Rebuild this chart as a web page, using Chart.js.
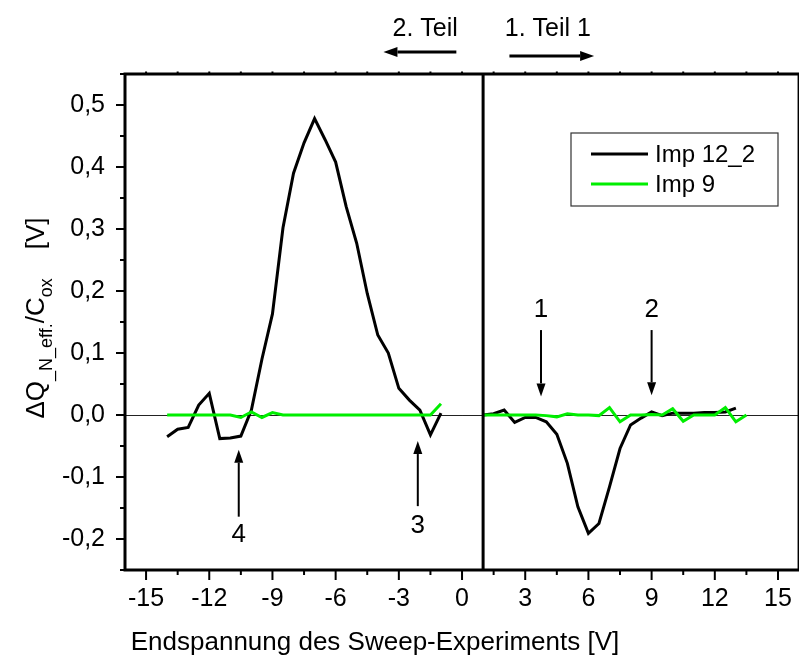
<!DOCTYPE html>
<html><head><meta charset="utf-8">
<script src="https://cdn.jsdelivr.net/npm/chart.js@4.4.1/dist/chart.umd.min.js"></script>
<style>
html,body{margin:0;padding:0;background:#fff;overflow:hidden;width:799px;height:661px}
#wrap{position:relative;width:806px;height:661px}
</style></head>
<body><div id="wrap"><canvas id="c" width="806" height="661"></canvas></div>
<script>
// ---- data ----
const xLeft = [-14,-13.5,-13,-12.5,-12,-11.5,-11,-10.5,-10,-9.5,-9,-8.5,-8,-7.5,-7,-6.5,-6,-5.5,-5,-4.5,-4,-3.5,-3,-2.5,-2,-1.5,-1];
const imp12Left = [-0.035,-0.023,-0.020,0.016,0.035,-0.038,-0.037,-0.034,0.008,0.090,0.163,0.302,0.390,0.439,0.478,0.444,0.408,0.336,0.277,0.196,0.129,0.100,0.043,0.024,0.008,-0.032,0.003];
const imp9Left = [0,0,0,0,0,0,0,-0.004,0.005,-0.004,0.004,0,0,0,0,0,0,0,0,0,0,0,0,0,0,0,0.018];
const xRight12 = [1,1.5,2,2.5,3,3.5,4,4.5,5,5.5,6,6.5,7,7.5,8,8.5,9,9.5,10,10.5,11,11.5,12,12.5,13];
const imp12Right = [0,0.002,0.008,-0.012,-0.004,-0.004,-0.011,-0.031,-0.078,-0.148,-0.191,-0.175,-0.116,-0.054,-0.016,-0.005,0.005,-0.001,0.003,0.003,0.003,0.004,0.004,0.005,0.011];
const xRight9 = [1,1.5,2,2.5,3,3.5,4,4.5,5,5.5,6,6.5,7,7.5,8,8.5,9,9.5,10,10.5,11,11.5,12,12.5,13,13.5];
const imp9Right = [0,0,0,0,0,0,-0.001,-0.003,0.002,0,0,-0.001,0.012,-0.011,0,0,0.001,0,0.010,-0.010,0,0,0,0.012,-0.011,0];
const seriesNames = ['Imp 12_2','Imp 9'];
const xTitle = 'Endspannung des Sweep-Experiments [V]';
const dividerX = 1;

// annotation markers (data units)
const markLabels = ['1','2','3','4'];
const markX = [3.75, 9, -2.1, -10.6];
const markTail = [0.137, 0.137, -0.147, -0.164];
const markTip = [0.030, 0.032, -0.042, -0.056];
const markText = [0.169, 0.169, -0.179, -0.194];

const FONT = '"Liberation Sans", Arial, sans-serif';
const BLACK = '#000000';
const GREEN = '#00ee00';

function pts(xs, ys){ return xs.map((x,i)=>({x:x,y:ys[i]})); }
const blackData = pts(xLeft, imp12Left).concat([{x:0, y:null}], pts(xRight12, imp12Right));
const greenData = pts(xLeft, imp9Left).concat([{x:0, y:null}], pts(xRight9, imp9Right));

function arrow(ctx, x1, y1, x2, y2, head, w){
  const a = Math.atan2(y2-y1, x2-x1);
  const bx = x2 - Math.cos(a)*head, by = y2 - Math.sin(a)*head;
  ctx.beginPath(); ctx.moveTo(x1,y1); ctx.lineTo(bx,by); ctx.stroke();
  ctx.beginPath();
  ctx.moveTo(x2,y2);
  ctx.lineTo(bx + Math.sin(a)*w, by - Math.cos(a)*w);
  ctx.lineTo(bx - Math.sin(a)*w, by + Math.cos(a)*w);
  ctx.closePath(); ctx.fill();
}

const underlay = {
  id:'underlay',
  beforeDatasetsDraw(chart){
    const {ctx, chartArea:a, scales:{x,y}} = chart;
    ctx.save();
    ctx.strokeStyle = '#222'; ctx.lineWidth = 1;
    const y0 = Math.round(y.getPixelForValue(0)) + 0.5;
    ctx.beginPath(); ctx.moveTo(a.left, y0); ctx.lineTo(a.right, y0); ctx.stroke();
    ctx.restore();
  }
};

const overlay = {
  id:'overlay',
  afterDraw(chart){
    const {ctx, chartArea:a, scales:{x,y}} = chart;
    ctx.save();
    ctx.strokeStyle = '#000'; ctx.fillStyle = '#000';
    // divider
    ctx.lineWidth = 3;
    const xd = x.getPixelForValue(dividerX);
    ctx.beginPath(); ctx.moveTo(xd, a.top); ctx.lineTo(xd, a.bottom); ctx.stroke();
    // frame
    ctx.lineWidth = 3;
    ctx.strokeRect(a.left, a.top, a.right - a.left, a.bottom - a.top);
    // ticks
    ctx.lineWidth = 2;
    x.ticks.forEach(t=>{
      const px = x.getPixelForValue(t.value);
      const major = Math.abs(t.value/3 - Math.round(t.value/3)) < 1e-6;
      ctx.beginPath(); ctx.moveTo(px, a.bottom); ctx.lineTo(px, a.bottom + (major?10:5)); ctx.stroke();
      ctx.beginPath(); ctx.moveTo(px, a.top); ctx.lineTo(px, a.top - 2.5); ctx.stroke();
    });
    y.ticks.forEach(t=>{
      const py = y.getPixelForValue(t.value);
      const v = Math.round(t.value*100);
      const major = v % 10 === 0;
      ctx.beginPath(); ctx.moveTo(a.left, py); ctx.lineTo(a.left - (major?9:5), py); ctx.stroke();
    });
    // marker arrows
    ctx.lineWidth = 2;
    ctx.font = '26px ' + FONT;
    ctx.textAlign = 'center'; ctx.textBaseline = 'middle';
    markLabels.forEach((lab,i)=>{
      const px = x.getPixelForValue(markX[i]);
      arrow(ctx, px, y.getPixelForValue(markTail[i]), px, y.getPixelForValue(markTip[i]), 13, 4.5);
      ctx.fillText(lab, px, y.getPixelForValue(markText[i]));
    });
    // top annotations
    ctx.font = '25px ' + FONT;
    ctx.textAlign = 'left'; ctx.textBaseline = 'alphabetic';
    ctx.fillText('2. Teil', x.getPixelForValue(-3.3), a.top - 38);
    ctx.fillText('1. Teil 1', x.getPixelForValue(2.03), a.top - 38);
    ctx.lineWidth = 3;
    arrow(ctx, x.getPixelForValue(-0.27), a.top - 22, x.getPixelForValue(-3.73), a.top - 22, 14, 5);
    arrow(ctx, x.getPixelForValue(2.25), a.top - 18, x.getPixelForValue(6.27), a.top - 18, 14, 5);
    // legend
    const lx = a.left + 446, ly = a.top + 59, lw = 207, lh = 73;
    ctx.lineWidth = 1.2; ctx.strokeStyle = '#333';
    ctx.fillStyle = '#fff';
    ctx.fillRect(lx, ly, lw, lh);
    ctx.strokeRect(lx, ly, lw, lh);
    ctx.font = '24px ' + FONT; ctx.textBaseline = 'middle'; ctx.textAlign = 'left';
    [0,1].forEach((k)=>{
      const ds = chart.data.datasets.find(d=>d.label===seriesNames[k]);
      const yy = ly + 21 + k*30;
      ctx.strokeStyle = ds.borderColor; ctx.lineWidth = 3;
      ctx.beginPath(); ctx.moveTo(lx + 20, yy); ctx.lineTo(lx + 77, yy); ctx.stroke();
      ctx.fillStyle = '#000';
      ctx.fillText(ds.label, lx + 84, yy + 1);
    });
    // x title
    ctx.font = '26px ' + FONT; ctx.textAlign = 'center'; ctx.textBaseline = 'alphabetic';
    ctx.fillStyle = '#000';
    ctx.fillText(xTitle, a.left + 250, 650);
    // y title with subscripts
    const parts = [
      {t:'\u0394Q', s:26, d:0},
      {t:'_N_eff.', s:18, d:8},
      {t:'/C', s:26, d:0},
      {t:'ox', s:18, d:8},
      {t:'    [V]', s:26, d:0}
    ];
    let total = 0;
    parts.forEach(p=>{ ctx.font = p.s + 'px ' + FONT; p.w = ctx.measureText(p.t).width; total += p.w; });
    ctx.translate(44, 318);
    ctx.rotate(-Math.PI/2);
    let cx = -total/2;
    ctx.textAlign = 'left'; ctx.textBaseline = 'alphabetic';
    parts.forEach(p=>{ ctx.font = p.s + 'px ' + FONT; ctx.fillText(p.t, cx, p.d); cx += p.w; });
    ctx.restore();
  }
};

new Chart(document.getElementById('c'), {
  type:'line',
  data:{ datasets:[
    {label:seriesNames[0], data:blackData, borderColor:BLACK, borderWidth:3, pointRadius:0, tension:0, spanGaps:false, order:2, fill:false},
    {label:seriesNames[1], data:greenData, borderColor:GREEN, borderWidth:3, pointRadius:0, tension:0, spanGaps:false, order:1, fill:false}
  ]},
  options:{
    responsive:false, animation:false, devicePixelRatio:1,
    layout:{padding:{top:74, right:3, left:0, bottom:0}},
    plugins:{legend:{display:false}, tooltip:{enabled:false}},
    scales:{
      x:{type:'linear', min:-16, max:16,
        grid:{display:false, drawTicks:false}, border:{display:false},
        ticks:{stepSize:1.5, includeBounds:false, autoSkip:false, maxRotation:0, padding:14,
          color:'#000', font:{family:FONT, size:25},
          callback:(v)=> Math.abs(v/3 - Math.round(v/3))<1e-6 ? String(Math.round(v)) : ''},
        afterFit:(s)=>{ s.height = 91; }
      },
      y:{type:'linear', min:-0.25, max:0.55,
        grid:{display:false, drawTicks:false}, border:{display:false},
        ticks:{stepSize:0.05, includeBounds:false, autoSkip:false, padding:20,
          color:'#000', font:{family:FONT, size:25},
          callback:(v)=>{ const k=Math.round(v*100); return k%10===0 ? (k/100).toFixed(1).replace('.',',').replace('-0,0','0,0') : ''; }},
        afterFit:(s)=>{ s.width = 125; }
      }
    }
  },
  plugins:[underlay, overlay]
});
</script>
</body></html>
